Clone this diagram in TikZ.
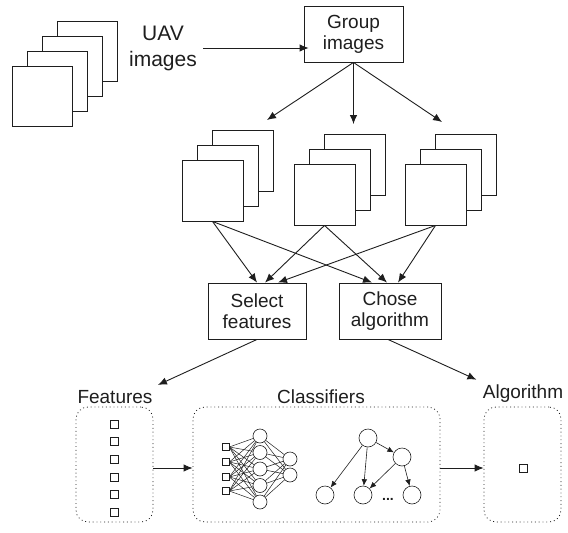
\documentclass[tikz,border=0pt]{standalone}
\usepackage{fontspec}
\setmainfont{Liberation Sans}
\usepackage{tikz}
\usetikzlibrary{arrows.meta,positioning}
\tikzset{>={Latex[length=9pt,width=7.5pt]}}
\definecolor{inkgray}{RGB}{30,30,30}

\begin{document}
\begin{tikzpicture}[x=1pt, y=-1pt, line width=0.9pt, inkgray,
  sheet/.style={draw, fill=white, minimum size=60pt, inner sep=0pt},
  stepbox/.style={draw, minimum height=56pt, inner sep=0pt, align=center, font=\fontsize{19}{21}\selectfont},
  lbl/.style={inner sep=1pt, font=\fontsize{19}{21}\selectfont},
  dotbox/.style={draw, line width=0.8pt, dash pattern=on 0.9pt off 2.9pt, rounded corners=12pt, minimum width=77pt, minimum height=115pt},
  feat/.style={draw, line width=0.6pt, minimum size=8pt, inner sep=0pt},
  neuron/.style={draw, circle, line width=0.6pt, minimum size=14pt, inner sep=0pt},
  tnode/.style={draw, circle, line width=0.6pt, minimum size=18pt, inner sep=0pt},
  tarrow/.style={-{Latex[length=6.5pt,width=5.5pt]}, line width=0.6pt}]
\useasboundingbox (0,0) rectangle (568,533);

% input stack and grouping
\foreach \i in {3,2,1,0} \node[sheet] (uav\i) at ({42+15*\i},{96-15*\i}) {};
\node[inner sep=1pt, align=center, font=\fontsize{21}{26}\selectfont] (uavtxt) at (163,48) {UAV\\images};
\node[stepbox, minimum width=99pt] (grp) at (353.5,34) {Group\\images};
\draw[->] ([xshift=5pt]uavtxt.east) -- ([xshift=5pt]uavtxt.east -| grp.west);

\foreach \s/\x/\y in {a/212.5/190.5, b/324.5/194.5, c/435.5/194.5}
  \foreach \i in {2,1,0} \node[sheet, minimum size=61pt] (\s\i) at ({\x+15*\i},{\y-15*\i}) {};

\coordinate (ta) at (267,120);
\coordinate (tb) at (353.5,124);
\coordinate (tc) at (442,122);
\draw[->] (grp.south) -- (ta);
\draw[->] (grp.south) -- (tb);
\draw[->] (grp.south) -- (tc);

\node[stepbox, minimum width=98pt] (sel) at (257,311) {Select\\features};
\node[stepbox, minimum width=102pt] (cho) at (390,311) {Chose\\algorithm};

\draw[->] (a0.south) -- (sel.north);
\draw[->] (b0.south) -- ([xshift=8pt]sel.north);
\draw[->] (c0.south) -- ([xshift=21pt]sel.north);
\draw[->] (a0.south) -- ([xshift=-18pt]cho.north);
\draw[->] (b0.south) -- ([xshift=-3pt]cho.north);
\draw[->] (c0.south) -- ([xshift=8pt]cho.north);

% outputs
\node[lbl] (featlbl) at (115,397) {Features};
\node[lbl] (clslbl) at (321,397) {Classifiers};
\node[lbl] (alglbl) at (523,394) {Algorithm};
\draw[->] (sel.south) -- ([shift={(4pt,4pt)}]featlbl.north east);
\draw[->] ([xshift=-2pt]cho.south) -- ([shift={(-5pt,4pt)}]alglbl.north west);

\node[dotbox] (featbox) at (114.5,464.5) {};
\node[dotbox, minimum width=247pt] (clsbox) at (316.5,464.5) {};
\node[dotbox] (algbox) at (522.5,464.5) {};
\draw[->] ([yshift=-3.5pt]featbox.east) -- ([yshift=-3.5pt]clsbox.west);
\draw[->] ([yshift=-3.5pt]clsbox.east) -- ([yshift=-3.5pt]algbox.west);

\foreach \i in {0,...,5} \node[feat] (f\i) at (114.5,{424+17.6*\i}) {};
\node[feat] (pick) at (523,468) {};

% network
\foreach \i/\y in {1/447,2/462,3/477,4/491} \node[feat, minimum size=7pt] (in\i) at (225.5,\y) {};
\foreach \j in {1,...,5} \node[neuron] (h\j) at (260,{436+16.5*(\j-1)}) {};
\foreach \k/\y in {1/459,2/475} \node[neuron] (o\k) at (290,\y) {};
\foreach \i in {1,...,4} \foreach \j in {1,...,5} \draw[line width=0.5pt] (in\i.east) -- (h\j);
\foreach \j in {1,...,5} \foreach \k in {1,2} \draw[line width=0.5pt] (h\j) -- (o\k);

% tree
\node[tnode] (root) at (368,438) {};
\node[tnode] (kid) at (402,457) {};
\node[tnode] (l1) at (325,495) {};
\node[tnode] (l2) at (363,495) {};
\node[tnode] (l3) at (412,495) {};
\node[anchor=base, inner sep=0pt, font=\fontsize{14}{14}\selectfont\bfseries] (dots) at (388,500) {...};
\draw[tarrow] (root) -- (l1);
\draw[tarrow] (root) -- (l2);
\draw[tarrow] (root) -- (kid);
\draw[tarrow] (kid) -- (l2);
\draw[tarrow] (kid) -- (l3);
\end{tikzpicture}
\end{document}
